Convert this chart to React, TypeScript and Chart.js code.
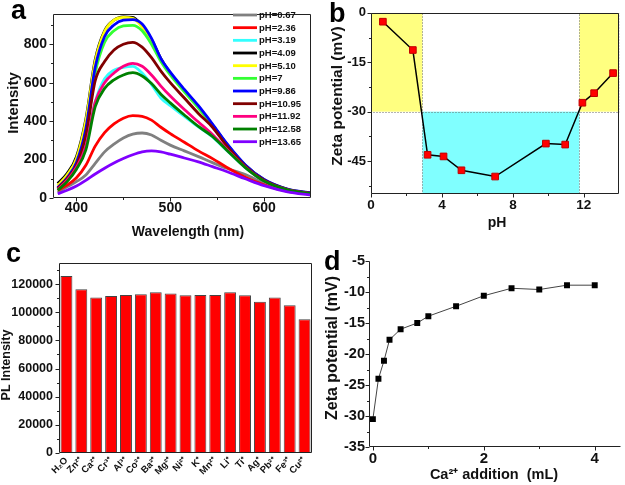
import React, { useEffect, useRef } from "react";
import { Chart, registerables } from "chart.js";

Chart.register(...registerables);

const FONT = "Arial, 'Liberation Sans', sans-serif";
const AXIS_COLOR = "#222";
const TEXT_COLOR = "#111";

// ---------------- Panel a: PL spectra at different pH ----------------
const wavelengths = [380, 390, 400, 410, 420, 430, 440, 450, 460, 470, 480, 490, 500, 515, 530, 545, 560, 580, 600, 625, 650];
const phNames = ["pH=0.67", "pH=2.36", "pH=3.19", "pH=4.09", "pH=5.10", "pH=7", "pH=9.86", "pH=10.95", "pH=11.92", "pH=12.58", "pH=13.65"];
const phColors = ["#808080", "#ff0000", "#33ffff", "#000000", "#ffff00", "#33ff33", "#0000ff", "#800000", "#ff0080", "#008000", "#8000ff"];
const spec_pH0_67 = [30, 58, 85, 120, 180, 240, 280, 312, 332, 338, 328, 300, 275, 245, 215, 184, 155, 122, 78, 40, 20];
const spec_pH2_36 = [40, 67, 105, 170, 270, 340, 385, 415, 428, 425, 405, 368, 335, 290, 245, 205, 160, 108, 68, 35, 20];
const spec_pH3_19 = [45, 93, 160, 280, 500, 620, 665, 680, 685, 650, 590, 520, 480, 425, 370, 318, 248, 158, 88, 42, 22];
const spec_pH4_09 = [75, 127, 215, 410, 720, 870, 925, 942, 940, 895, 825, 725, 650, 560, 475, 380, 282, 170, 95, 45, 25];
const spec_pH5_10 = [65, 120, 205, 400, 710, 865, 925, 940, 935, 890, 820, 718, 645, 555, 470, 378, 280, 168, 94, 45, 25];
const spec_pH7 = [50, 100, 175, 330, 650, 810, 870, 895, 898, 870, 800, 710, 640, 552, 468, 378, 280, 168, 93, 44, 24];
const spec_pH9_86 = [55, 105, 185, 360, 680, 840, 900, 925, 928, 905, 830, 725, 655, 565, 480, 385, 285, 172, 96, 46, 26];
const spec_pH10_95 = [50, 100, 170, 325, 610, 710, 770, 800, 810, 785, 730, 660, 600, 520, 440, 368, 272, 165, 92, 44, 24];
const spec_pH11_92 = [45, 93, 160, 270, 500, 600, 650, 685, 700, 685, 640, 582, 530, 460, 395, 330, 255, 160, 88, 42, 22];
const spec_pH12_58 = [40, 85, 150, 250, 475, 570, 615, 640, 652, 635, 595, 540, 495, 432, 372, 320, 250, 158, 88, 42, 22];
const spec_pH13_65 = [22, 40, 62, 92, 125, 155, 182, 205, 225, 240, 245, 240, 228, 208, 188, 163, 138, 100, 64, 32, 15];
const spectra = [spec_pH0_67, spec_pH2_36, spec_pH3_19, spec_pH4_09, spec_pH5_10, spec_pH7, spec_pH9_86, spec_pH10_95, spec_pH11_92, spec_pH12_58, spec_pH13_65];
const aXMajor = [400, 500, 600];
const aXMinor = [450, 550];
const aYMajor = [0, 200, 400, 600, 800];
const aYMinor = [100, 300, 500, 700, 900];

// ---------------- Panel b: zeta potential vs pH ----------------
const bPH = [0.67, 2.36, 3.19, 4.09, 5.1, 7, 9.86, 10.95, 11.92, 12.58, 13.65];
const bZeta = [-2.7, -11.3, -43.1, -43.6, -47.8, -49.7, -39.7, -40.0, -27.3, -24.4, -18.3];
const bXMajor = [0, 4, 8, 12];
const bXMinor = [2, 6, 10];
const bYMajor = [0, -15, -30, -45];
const bYMinor = [-7.5, -22.5, -37.5, -52.5];
const bShadeX0 = [0, 2.9, 11.75];
const bShadeX1 = [2.9, 11.75, 14];
const bShadeY0 = [0, -30, 0];
const bShadeY1 = [-30, -55, -30];
const bShadeColors = ["#ffff80", "#80ffff", "#ffff80"];

// ---------------- Panel c: PL intensity with ions ----------------
const ions = ["H\u2082O", "Zn\u00b2\u207a", "Ca\u00b2\u207a", "Cr\u00b3\u207a", "Al\u00b3\u207a", "Co\u00b2\u207a", "Ba\u00b2\u207a", "Mg\u00b2\u207a", "Ni\u00b2\u207a", "K\u207a", "Mn\u00b2\u207a", "Li\u207a", "Ti\u207a", "Ag\u207a", "Pb\u00b2\u207a", "Fe\u00b3\u207a", "Cu\u00b2\u207a"];
const plValues = [125800, 116400, 110400, 111600, 112300, 112800, 114200, 113300, 112100, 112300, 112300, 114200, 112100, 107500, 110400, 105000, 95000];
const cYMajor = [0, 20000, 40000, 60000, 80000, 100000, 120000];
const cYMinor = [10000, 30000, 50000, 70000, 90000, 110000, 130000];

// ---------------- Panel d: zeta potential vs Ca2+ addition ----------------
const caAddition = [0, 0.1, 0.2, 0.3, 0.5, 0.8, 1.0, 1.5, 2.0, 2.5, 3.0, 3.5, 4.0];
const dZeta = [-30.5, -24.0, -21.1, -17.7, -16.0, -15.0, -13.9, -12.3, -10.6, -9.4, -9.6, -8.9, -8.9];
const dXMajor = [0, 2, 4];
const dXMinor = [1, 3];
const dYMajor = [-5, -10, -15, -20, -25, -30, -35];
const dYMinor = [-7.5, -12.5, -17.5, -22.5, -27.5, -32.5];

// ---------------- helpers ----------------
function decor(spec: any) {
  return {
    id: "decor",
    beforeDatasetsDraw(chart: any) {
      if (!spec.regions) return;
      const { ctx, chartArea: a, scales } = chart;
      const xs = scales.x, ys = scales.y;
      ctx.save();
      ctx.beginPath();
      ctx.rect(a.left, a.top, a.width, a.height);
      ctx.clip();
      spec.regions.forEach((r: any) => {
        const x0 = xs.getPixelForValue(r.x0), x1 = xs.getPixelForValue(r.x1);
        const y0 = ys.getPixelForValue(r.y0), y1 = ys.getPixelForValue(r.y1);
        const l = Math.min(x0, x1), t = Math.min(y0, y1), w = Math.abs(x1 - x0), h = Math.abs(y1 - y0);
        ctx.fillStyle = r.color;
        ctx.fillRect(l, t, w, h);
        ctx.setLineDash([1, 2]);
        ctx.strokeStyle = "#666";
        ctx.lineWidth = 1;
        ctx.strokeRect(Math.round(l) + 0.5, Math.round(t) + 0.5, Math.round(w), Math.round(h));
      });
      ctx.restore();
    },
    afterDraw(chart: any) {
      const { ctx, chartArea: a, scales } = chart;
      const xs = scales.x, ys = scales.y;
      const L = Math.round(a.left) + 0.5, R = Math.round(a.right) - 0.5;
      const T = Math.round(a.top) + 0.5, B = Math.round(a.bottom) - 0.5;
      ctx.save();
      ctx.setLineDash([]);
      ctx.strokeStyle = AXIS_COLOR;
      ctx.lineWidth = 1;
      ctx.beginPath();
      ctx.moveTo(L, T);
      ctx.lineTo(L, B);
      ctx.lineTo(R, B);
      if (spec.box) {
        ctx.lineTo(R, T);
        ctx.lineTo(L, T);
      }
      const tick = (vals: number[] | undefined, len: number, horiz: boolean) => {
        (vals || []).forEach((v) => {
          if (horiz) {
            const p = Math.round(xs.getPixelForValue(v)) + 0.5;
            ctx.moveTo(p, B);
            ctx.lineTo(p, B + len);
          } else {
            const p = Math.round(ys.getPixelForValue(v)) + 0.5;
            ctx.moveTo(L, p);
            ctx.lineTo(L - len, p);
          }
        });
      };
      tick(spec.xMajor, spec.majorLen, true);
      tick(spec.xMinor, spec.minorLen, true);
      tick(spec.yMajor, spec.majorLen, false);
      tick(spec.yMinor, spec.minorLen, false);
      ctx.stroke();

      ctx.fillStyle = TEXT_COLOR;
      ctx.textAlign = "center";
      ctx.textBaseline = "middle";
      if (spec.xTitle) {
        ctx.font = `bold ${spec.xTitle.size}px ${FONT}`;
        ctx.fillText(spec.xTitle.text, spec.xTitle.x, spec.xTitle.y);
      }
      if (spec.yTitle) {
        ctx.save();
        ctx.translate(spec.yTitle.x, spec.yTitle.y);
        ctx.rotate(-Math.PI / 2);
        ctx.font = `bold ${spec.yTitle.size}px ${FONT}`;
        ctx.fillText(spec.yTitle.text, 0, 0);
        ctx.restore();
      }
      if (spec.legend) {
        const lg = spec.legend;
        lg.names.forEach((name: string, i: number) => {
          const y = lg.y + i * lg.step;
          ctx.strokeStyle = lg.colors[i];
          ctx.lineWidth = 2.8;
          ctx.beginPath();
          ctx.moveTo(lg.x, y);
          ctx.lineTo(lg.x + lg.lineLen, y);
          ctx.stroke();
          ctx.fillStyle = TEXT_COLOR;
          ctx.textAlign = "left";
          ctx.font = `${lg.weight} ${lg.size}px ${FONT}`;
          ctx.fillText(name, lg.x + lg.lineLen + 2, y + 0.5);
        });
      }
      if (spec.letter) {
        ctx.fillStyle = "#000";
        ctx.textAlign = "left";
        ctx.textBaseline = "alphabetic";
        ctx.font = `bold 27px ${FONT}`;
        ctx.fillText(spec.letter.text, spec.letter.x, spec.letter.y);
      }
      ctx.restore();
    },
  };
}

const tickFont = (size: number) => ({ family: FONT, size, weight: "bold" as const });
const fixedTicks = (vals: number[]) => (s: any) => {
  s.ticks = vals.map((v) => ({ value: v }));
};
const baseOptions = (padding: any) => ({
  animation: false as const,
  responsive: false,
  maintainAspectRatio: false,
  events: [] as any[],
  layout: { padding },
  plugins: { legend: { display: false }, tooltip: { enabled: false } },
});
const linAxis = (min: number, max: number, major: number[], size: number, pad: number, fit: (s: any) => void) => ({
  type: "linear" as const,
  min,
  max,
  grid: { display: false, drawTicks: false },
  border: { display: false },
  ticks: { padding: pad, font: tickFont(size), color: TEXT_COLOR, callback: (v: any) => String(v) },
  afterBuildTicks: fixedTicks(major),
  afterFit: fit,
});

function buildA(): any {
  return {
    type: "line",
    data: {
      datasets: spectra.map((s, i) => ({
        label: phNames[i],
        data: wavelengths.map((w, j) => ({ x: w, y: s[j] })),
        borderColor: phColors[i],
        borderWidth: 2.8,
        pointRadius: 0,
        tension: 0.4,
        cubicInterpolationMode: "monotone",
        fill: false,
        order: spectra.length - i,
      })),
    },
    options: {
      ...baseOptions({ left: 0, top: 13, right: 9, bottom: 0 }),
      scales: {
        x: linAxis(375, 650, aXMajor, 14, 2, (s: any) => { s.height = 42; }),
        y: linAxis(0, 955, aYMajor, 14, 6, (s: any) => { s.width = 53; }),
      },
    },
    plugins: [
      decor({
        box: true,
        xMajor: aXMajor, xMinor: aXMinor, yMajor: aYMajor, yMinor: aYMinor,
        majorLen: 4, minorLen: 2.5,
        letter: { text: "a", x: 11, y: 18.5 },
        xTitle: { text: "Wavelength (nm)", x: 188, y: 232, size: 14 },
        yTitle: { text: "Intensity", x: 14, y: 103, size: 15 },
        legend: { x: 233, y: 15, step: 12.67, lineLen: 24, names: phNames, colors: phColors, size: 9.5, weight: "bold" },
      }),
    ],
  };
}

function buildB(): any {
  return {
    type: "line",
    data: {
      datasets: [
        {
          data: bPH.map((p, i) => ({ x: p, y: bZeta[i] })),
          borderColor: "#000",
          borderWidth: 1.5,
          pointStyle: "rect",
          pointRadius: 4.7,
          pointBackgroundColor: "#ff0000",
          pointBorderColor: "#c00000",
          pointBorderWidth: 1,
          tension: 0,
          fill: false,
        },
      ],
    },
    options: {
      ...baseOptions({ left: 0, top: 8, right: 2, bottom: 0 }),
      scales: {
        x: linAxis(0, 14, bXMajor, 13.5, 3.5, (s: any) => { s.height = 46; }),
        y: linAxis(-55, 0, bYMajor, 13, 5, (s: any) => { s.width = 51; }),
      },
    },
    plugins: [
      decor({
        box: true,
        regions: bShadeColors.map((c, i) => ({ x0: bShadeX0[i], x1: bShadeX1[i], y0: bShadeY0[i], y1: bShadeY1[i], color: c })),
        xMajor: bXMajor, xMinor: bXMinor, yMajor: bYMajor, yMinor: bYMinor,
        majorLen: 4, minorLen: 2.5,
        letter: { text: "b", x: 9, y: 21.5 },
        xTitle: { text: "pH", x: 177, y: 223, size: 14 },
        yTitle: { text: "Zeta potential (mV)", x: 18, y: 96, size: 15.5 },
      }),
    ],
  };
}

function buildC(): any {
  return {
    type: "bar",
    data: {
      labels: ions,
      datasets: [
        {
          data: plValues,
          backgroundColor: "#ff0000",
          borderColor: "#444",
          borderWidth: 1,
          barPercentage: 0.8,
          categoryPercentage: 1,
        },
      ],
    },
    options: {
      ...baseOptions({ left: 0, top: 23, right: 8, bottom: 0 }),
      scales: {
        x: {
          type: "category",
          grid: { display: false, drawTicks: false },
          border: { display: false },
          ticks: { padding: 2, font: tickFont(9.5), color: TEXT_COLOR, minRotation: 45, maxRotation: 45, autoSkip: false },
          afterFit: (s: any) => { s.height = 32; },
        },
        y: linAxis(0, 135000, cYMajor, 12.5, 6, (s: any) => { s.width = 59; }),
      },
    },
    plugins: [
      decor({
        box: true,
        yMajor: cYMajor, yMinor: cYMinor,
        majorLen: 4, minorLen: 2.5,
        letter: { text: "c", x: 6, y: 22 },
        yTitle: { text: "PL Intensity", x: 7, y: 125, size: 12.5 },
      }),
    ],
  };
}

function buildD(): any {
  return {
    type: "line",
    data: {
      datasets: [
        {
          data: caAddition.map((c, i) => ({ x: c, y: dZeta[i] })),
          borderColor: "#444",
          borderWidth: 1,
          pointStyle: "rect",
          pointRadius: 4.2,
          pointBackgroundColor: "#000",
          pointBorderColor: "#000",
          pointBorderWidth: 0,
          tension: 0,
          fill: false,
        },
      ],
    },
    options: {
      ...baseOptions({ left: 0, top: 21, right: 1, bottom: 0 }),
      scales: {
        x: linAxis(-0.07, 4.47, dXMajor, 15, 2.5, (s: any) => { s.height = 38; }),
        y: linAxis(-35, -5, dYMajor, 14.5, 4, (s: any) => { s.width = 49; }),
      },
    },
    plugins: [
      decor({
        box: false,
        xMajor: dXMajor, xMinor: dXMinor, yMajor: dYMajor, yMinor: dYMinor,
        majorLen: 4, minorLen: 2.5,
        letter: { text: "d", x: 4, y: 30 },
        xTitle: { text: "Ca\u00b2\u207a addition  (mL)", x: 174, y: 235, size: 14.5 },
        yTitle: { text: "Zeta potential (mV)", x: 12.5, y: 108, size: 16 },
      }),
    ],
  };
}

function ChartCanvas(props: { left: number; top: number; width: number; height: number; build: () => any }) {
  const ref = useRef<HTMLCanvasElement | null>(null);
  useEffect(() => {
    if (!ref.current) return;
    const chart = new Chart(ref.current, props.build());
    return () => chart.destroy();
  }, []);
  return (
    <canvas
      ref={ref}
      width={props.width}
      height={props.height}
      style={{ position: "absolute", left: props.left, top: props.top, width: props.width, height: props.height, display: "block" }}
    />
  );
}

export default function App() {
  return (
    <div style={{ position: "absolute", left: 0, top: 0, width: 625, height: 485, background: "#fff", overflow: "hidden" }}>
      <ChartCanvas left={0} top={0} width={320} height={240} build={buildA} />
      <ChartCanvas left={320} top={0} width={305} height={240} build={buildB} />
      <ChartCanvas left={0} top={240} width={320} height={245} build={buildC} />
      <ChartCanvas left={320} top={240} width={305} height={245} build={buildD} />
    </div>
  );
}
